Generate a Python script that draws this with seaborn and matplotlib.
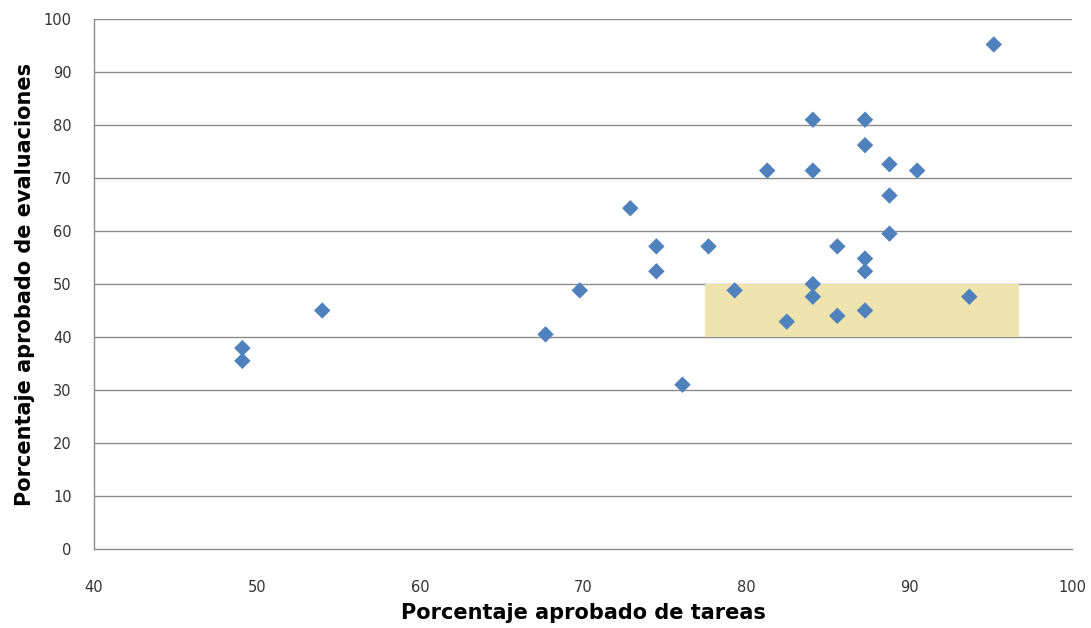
import matplotlib
matplotlib.use("Agg")
import matplotlib.pyplot as plt
import seaborn as sns
import pandas as pd
from matplotlib.patches import Rectangle

# Data
tareas = [49.1, 49.1, 54.0, 67.7, 69.8, 72.9, 74.5, 74.5, 76.1, 77.7, 79.3,
          81.3, 82.5, 84.1, 84.1, 84.1, 84.1, 85.6, 85.6, 87.3, 87.3, 87.3,
          87.3, 87.3, 88.8, 88.8, 88.8, 90.5, 93.7, 95.2]
evaluaciones = [37.9, 35.5, 45.0, 40.5, 48.8, 64.3, 57.1, 52.4, 31.0, 57.1, 48.8,
                71.4, 42.9, 81.0, 71.4, 50.0, 47.6, 57.1, 44.0, 81.0, 76.2, 54.8,
                52.4, 45.0, 72.6, 66.7, 59.5, 71.4, 47.6, 95.2]
zona_x = [77.5, 96.75]
zona_y = [40, 50]
x_ticks = [40, 50, 60, 70, 80, 90, 100]
y_ticks = [0, 10, 20, 30, 40, 50, 60, 70, 80, 90, 100]

df = pd.DataFrame({"tareas": tareas, "evaluaciones": evaluaciones})

sns.set_style("white")
plt.rcParams["font.family"] = ["DejaVu Sans"]

fig = plt.figure(figsize=(10.91, 6.28), dpi=100)
ax = fig.add_axes([0.0862, 0.1258, 0.8964, 0.8439])

for yt in y_ticks[1:]:
    ax.axhline(yt, color="#8c8c8c", lw=1.0, zorder=1)

ax.add_patch(Rectangle((zona_x[0], zona_y[0]), zona_x[1] - zona_x[0],
                       zona_y[1] - zona_y[0], facecolor="#EEE2AD",
                       edgecolor="none", zorder=2))

sns.scatterplot(data=df, x="tareas", y="evaluaciones", marker="D", s=70,
                color="#4F81BD", edgecolor="none", ax=ax, zorder=3)

ax.set_xlim(40, 100)
ax.set_ylim(0, 100)
ax.set_xticks(x_ticks)
ax.set_yticks(y_ticks)
ax.tick_params(axis="y", labelsize=10.5, colors="#333333", length=0, pad=16)
ax.tick_params(axis="x", labelsize=10.5, colors="#333333", length=0, pad=22)
for side in ["top", "right"]:
    ax.spines[side].set_visible(False)
for side in ["left", "bottom"]:
    ax.spines[side].set_color("#8c8c8c")
    ax.spines[side].set_linewidth(1.0)

ax.set_xlabel("Porcentaje aprobado de tareas", fontsize=15, fontweight="bold",
              color="black", labelpad=6)
ax.set_ylabel("Porcentaje aprobado de evaluaciones", fontsize=15,
              fontweight="bold", color="black", labelpad=6)

fig.savefig("out.png", dpi=100)
